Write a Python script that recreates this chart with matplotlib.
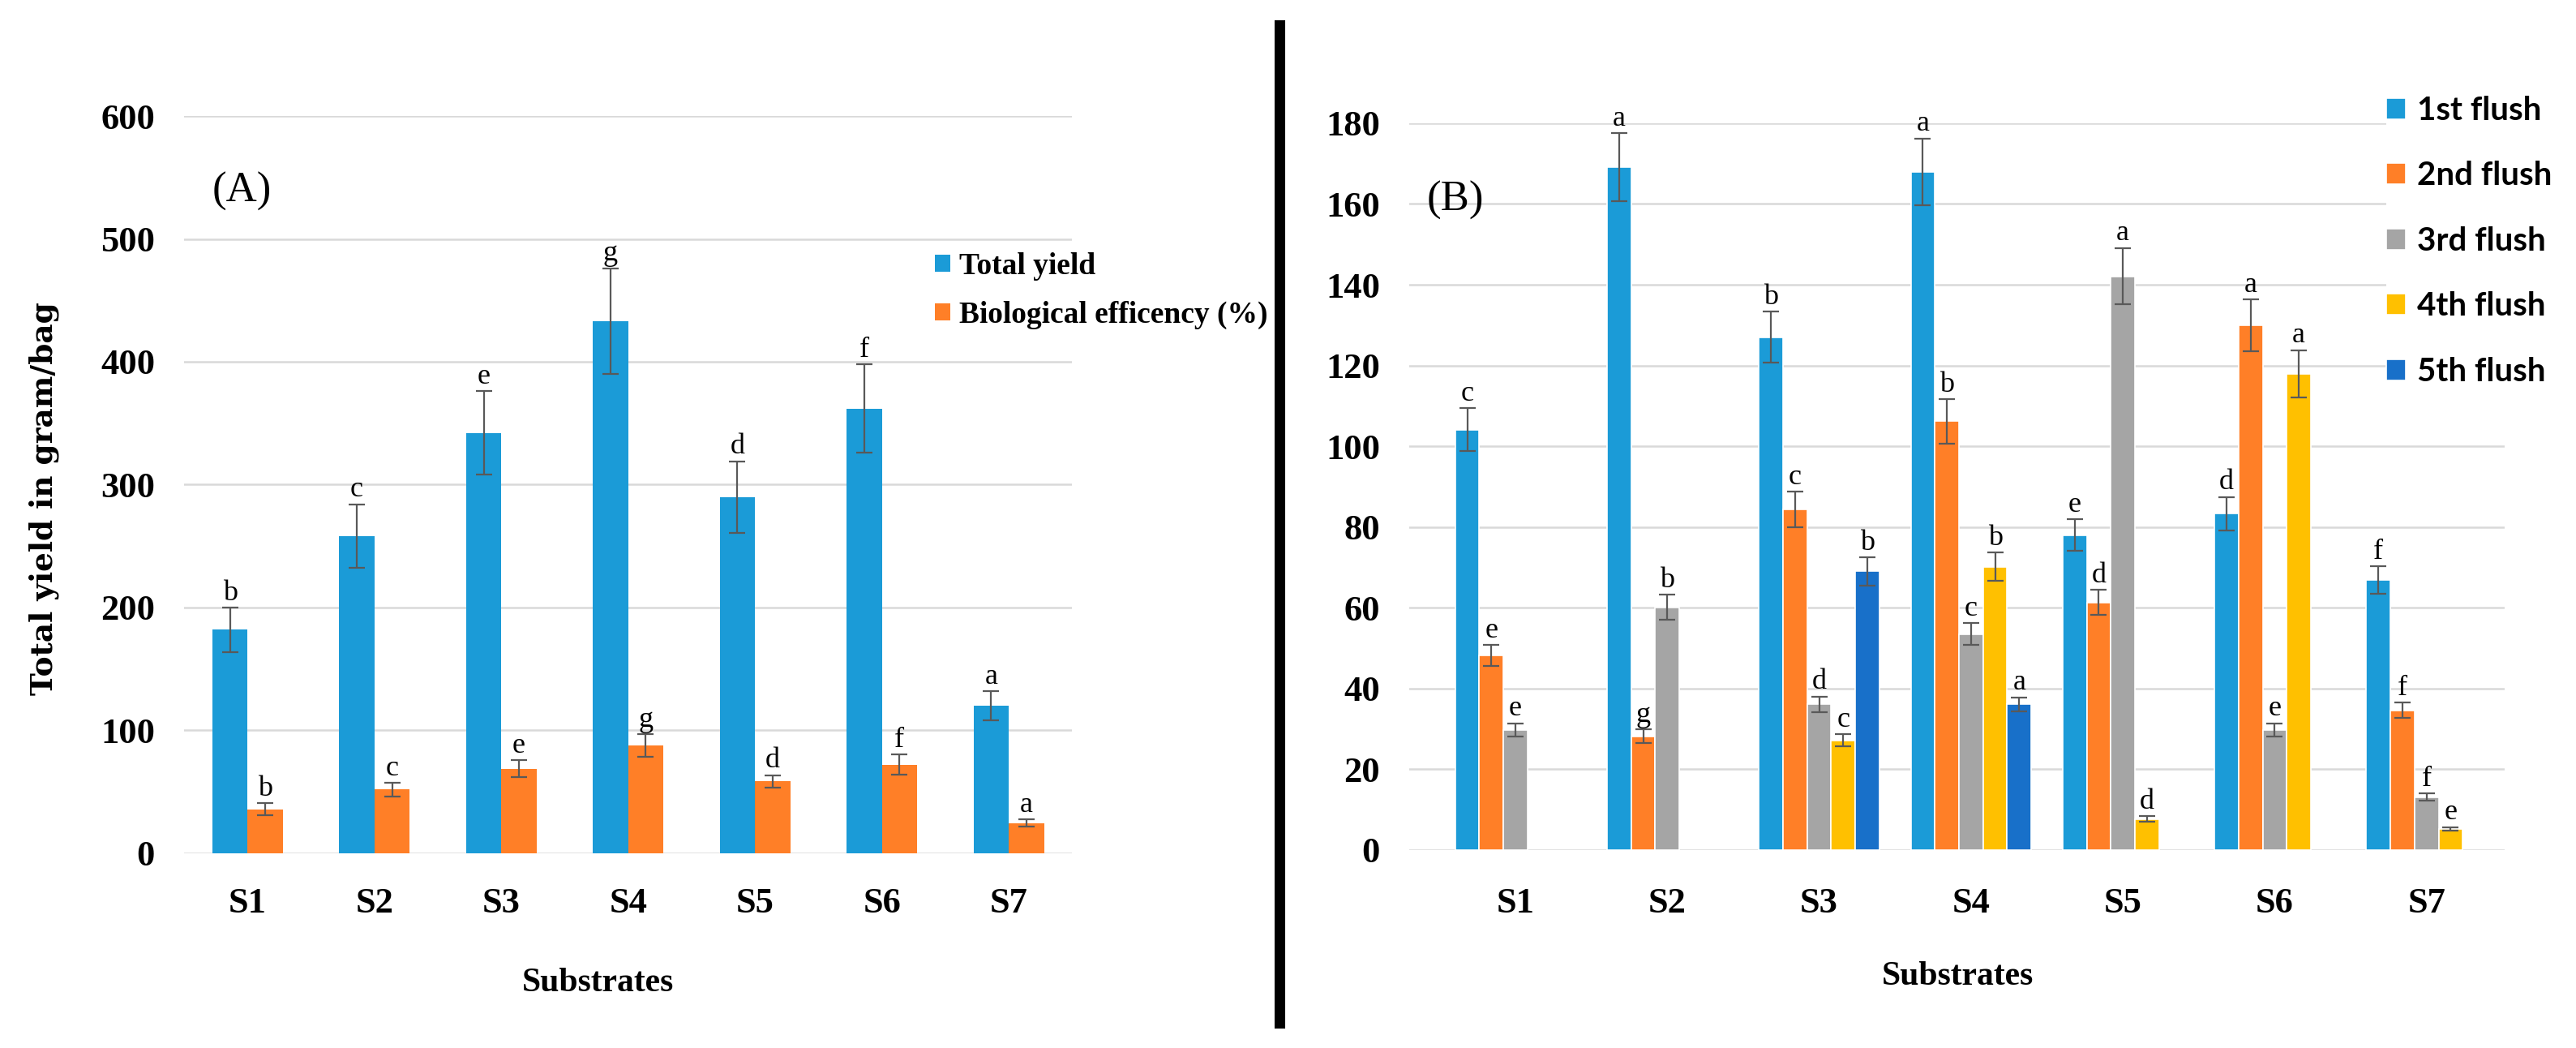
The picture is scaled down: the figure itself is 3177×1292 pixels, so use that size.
import numpy as np
import matplotlib.pyplot as plt
from matplotlib.lines import Line2D


# ============================================================
# Data
# ============================================================

substrates = ["S1", "S2", "S3", "S4", "S5", "S6", "S7"]

# Panel A
total_yield = [182, 258, 342, 433, 290, 362, 120]
total_yield_err = [18, 26, 34, 43, 29, 36, 12]
total_yield_letters = ["b", "c", "e", "g", "d", "f", "a"]

bio_eff = [35.7, 51.8, 68.7, 87.7, 58.5, 72.2, 24.6]
bio_eff_err = [5.0, 5.5, 7.0, 9.0, 5.0, 8.0, 2.8]
bio_eff_letters = ["b", "c", "e", "g", "d", "f", "a"]

# Panel B (nan = no bar)
flush_names = ["1st flush", "2nd flush", "3rd flush", "4th flush", "5th flush"]
flush1 = [104.1, 169.1, 127.0, 167.9, 78.0, 83.3, 66.9]
flush1_err = [5.3, 8.4, 6.3, 8.3, 3.9, 4.1, 3.4]
flush1_letters = ["c", "a", "b", "a", "e", "d", "f"]
flush2 = [48.2, 28.2, 84.3, 106.2, 61.3, 130.0, 34.6]
flush2_err = [2.6, 1.7, 4.4, 5.5, 3.1, 6.4, 1.9]
flush2_letters = ["e", "g", "c", "b", "d", "a", "f"]
flush3 = [29.8, 60.1, 36.1, 53.5, 142.1, 29.8, 13.1]
flush3_err = [1.6, 3.1, 1.9, 2.7, 7.0, 1.6, 0.9]
flush3_letters = ["e", "b", "d", "c", "a", "e", "f"]
flush4 = [np.nan, np.nan, 27.2, 70.2, 7.7, 117.9, 5.3]
flush4_err = [np.nan, np.nan, 1.5, 3.5, 0.7, 5.9, 0.4]
flush4_letters = ["", "", "c", "b", "d", "a", "e"]
flush5 = [np.nan, np.nan, 69.0, 36.1, np.nan, np.nan, np.nan]
flush5_err = [np.nan, np.nan, 3.5, 1.7, np.nan, np.nan, np.nan]
flush5_letters = ["", "", "b", "a", "", "", ""]


# ============================================================
# Style
# ============================================================

SERIF = "Liberation Serif"
BLUE = "#1B9BD7"
ORANGE = "#FF7F27"
GRAY = "#A5A5A5"
YELLOW = "#FFC000"
DARK_BLUE = "#1870C9"
GRID = "#D9D9D9"
ERR = "#595959"

TICK_SIZE = 32
LETTER_SIZE = 26


def style_axis(ax, xpad):
    for spine in ax.spines.values():
        spine.set_visible(False)
    ax.grid(axis="y", color=GRID, linewidth=1.8)
    ax.set_axisbelow(True)
    ax.tick_params(axis="both", length=0)
    ax.tick_params(axis="y", pad=26)
    ax.tick_params(axis="x", pad=xpad)
    for lab in ax.get_xticklabels() + ax.get_yticklabels():
        lab.set_fontfamily(SERIF)
        lab.set_fontweight("bold")
        lab.set_fontsize(TICK_SIZE)


def draw_bars(ax, xs, values, errs, letters, width, color, edge=None):
    values = np.asarray(values, dtype=float)
    errs = np.asarray(errs, dtype=float)
    ok = ~np.isnan(values)
    xs = np.asarray(xs)[ok]
    v = values[ok]
    e = errs[ok]
    bars = ax.bar(xs, v, width=width, color=color,
                  edgecolor=edge if edge else color,
                  linewidth=1.2 if edge else 0, zorder=2)
    ax.errorbar(xs, v, yerr=e, fmt="none", ecolor=ERR, elinewidth=1.6,
                capsize=7, capthick=1.6, zorder=3)
    labs = [l for l, k in zip(letters, ok) if k]
    for x, top, lab in zip(xs, v + e, labs):
        ax.annotate(lab, xy=(x, top), xytext=(0, 1), textcoords="offset points",
                    ha="center", va="bottom", fontsize=LETTER_SIZE,
                    fontfamily=SERIF, zorder=4)
    return bars


fig = plt.figure(figsize=(31.77, 12.92), dpi=100)

# ============================================================
# Panel A
# ============================================================

ax1 = fig.add_axes([0.0715, 0.1858, 0.3447, 0.7035])
x = np.arange(len(substrates))
w = 0.278
b1 = draw_bars(ax1, x - w / 2, total_yield, total_yield_err, total_yield_letters, w, BLUE)
b2 = draw_bars(ax1, x + w / 2, bio_eff, bio_eff_err, bio_eff_letters, w, ORANGE)
ax1.set_xlim(-0.5, 6.5)
ax1.set_ylim(0, 600)
ax1.set_yticks(np.arange(0, 601, 100))
ax1.set_xticks(x)
ax1.set_xticklabels(substrates)
style_axis(ax1, xpad=30)

ax1.set_ylabel("Total yield in gram/bag", fontfamily="DejaVu Serif",
               fontweight="bold", fontsize=27)
ax1.yaxis.label.set_verticalalignment("center")
ax1.yaxis.set_label_coords(-0.158, 0.481)
ax1.set_xlabel("Substrates", fontfamily=SERIF, fontweight="bold", fontsize=30)
ax1.xaxis.set_label_coords(0.466, -0.155)

ax1.text(0.065, 0.898, "(A)", transform=ax1.transAxes, fontfamily=SERIF,
         fontsize=38, ha="center", va="center")

fig.legend([b1, b2], ["Total yield", "Biological efficency (%)"],
           loc="upper left", bbox_to_anchor=(0.3629, 0.7593), frameon=False,
           borderpad=0, borderaxespad=0, handlelength=0.5, handleheight=0.5,
           handletextpad=0.3, labelspacing=0.67,
           prop={"family": SERIF, "weight": "bold", "size": 27})

# ============================================================
# Panel B
# ============================================================

ax2 = fig.add_axes([0.5471, 0.1889, 0.4252, 0.6935])
slot = 0.1586
series = [
    (flush1, flush1_err, flush1_letters, BLUE),
    (flush2, flush2_err, flush2_letters, ORANGE),
    (flush3, flush3_err, flush3_letters, GRAY),
    (flush4, flush4_err, flush4_letters, YELLOW),
    (flush5, flush5_err, flush5_letters, DARK_BLUE),
]
handles = []
for k, (vals, errs, lets, col) in enumerate(series):
    h = draw_bars(ax2, x + (k - 2) * slot, vals, errs, lets, slot, col, edge="white")
    handles.append(h)
ax2.set_xlim(-0.699, 6.514)
ax2.set_ylim(0, 180)
ax2.set_yticks(np.arange(0, 181, 20))
ax2.set_xticks(x)
ax2.set_xticklabels(substrates)
style_axis(ax2, xpad=33)

ax2.set_xlabel("Substrates", fontfamily=SERIF, fontweight="bold", fontsize=30)
ax2.xaxis.set_label_coords(0.501, -0.153)

ax2.text(0.042, 0.894, "(B)", transform=ax2.transAxes, fontfamily=SERIF,
         fontsize=38, ha="center", va="center")

fig.legend(handles, flush_names, loc="upper left",
           bbox_to_anchor=(0.9264, 0.9087), frameon=True, facecolor="white",
           edgecolor="none", framealpha=1, borderpad=0, borderaxespad=0,
           handlelength=0.6, handleheight=0.6, handletextpad=0.33,
           labelspacing=1.08,
           prop={"family": "Lato", "weight": "bold", "size": 29})

# divider between panels
fig.add_artist(Line2D([0.4967, 0.4967], [0.024, 0.976], transform=fig.transFigure,
                      color="black", linewidth=9.4))

fig.savefig("out.png", dpi=100)
